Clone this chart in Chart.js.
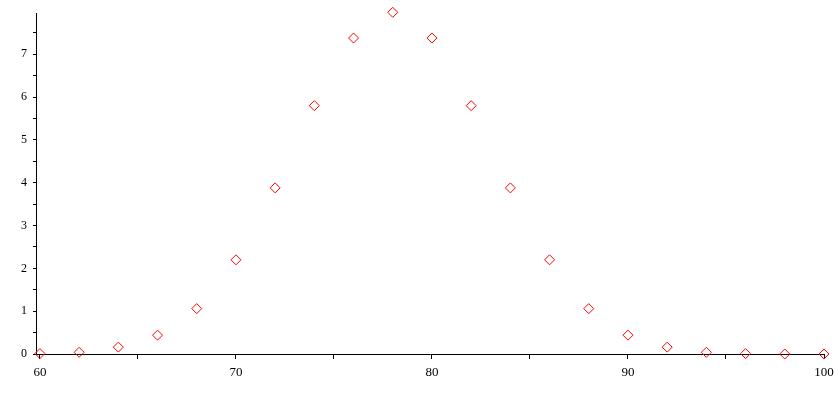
<!DOCTYPE html>
<html>
<head>
<meta charset="utf-8">
<script src="https://cdn.jsdelivr.net/npm/chart.js@4"></script>
<style>
  html, body { margin: 0; padding: 0; background: #fff; }
  #wrap { width: 840px; height: 400px; }
</style>
</head>
<body>
<div id="wrap"><canvas id="chartCanvas"></canvas></div>
<script>
// x positions and plotted values
const xValues = [60, 62, 64, 66, 68, 70, 72, 74, 76, 78, 80, 82, 84, 86, 88, 90, 92, 94, 96, 98, 100];
const yValues = [0.01, 0.04, 0.16, 0.44, 1.06, 2.2, 3.88, 5.8, 7.38, 7.98, 7.38, 5.8, 3.88, 2.2, 1.06, 0.44, 0.16, 0.04, 0.01, 0.0, 0.0];
const xTickLabels = [60, 70, 80, 90, 100]; // labelled x ticks
const yTickLabels = [0, 1, 2, 3, 4, 5, 6, 7]; // labelled y ticks

const points = xValues.map(function (x, i) {
    return { x: x, y: yValues[i] };
});

const serif = "'Liberation Serif', 'DejaVu Serif', serif";

const ctx = document.getElementById('chartCanvas').getContext('2d');
const myChart = new Chart(ctx, {
    type: 'scatter',
    data: {
        datasets: [{
            data: points,
            pointStyle: 'rectRot',
            pointRadius: 5,
            pointHoverRadius: 5,
            pointBorderWidth: 1,
            borderColor: '#ff0000',
            backgroundColor: 'rgba(0,0,0,0)',
            clip: false
        }]
    },
    options: {
        responsive: true,
        maintainAspectRatio: false,
        animation: false,
        layout: { padding: { left: 0, right: 16, top: 12, bottom: 0 } },
        plugins: { legend: { display: false }, tooltip: { enabled: false } },
        scales: {
            x: {
                type: 'linear',
                min: 59.8,
                max: 100,
                afterFit: function (scale) { scale.height = 46; },
                afterBuildTicks: function (scale) {
                    const t = [];
                    for (let v = 60; v <= 100; v += 5) t.push({ value: v });
                    scale.ticks = t;
                },
                ticks: {
                    color: '#000',
                    font: { family: serif, size: 13 },
                    padding: 6,
                    maxRotation: 0,
                    autoSkip: false,
                    callback: function (v) {
                        return xTickLabels.includes(v) ? String(v) : '';
                    }
                },
                grid: {
                    drawOnChartArea: false,
                    drawTicks: true,
                    tickLength: 5,
                    tickColor: '#000'
                },
                border: { display: true, color: '#000', width: 1 }
            },
            y: {
                type: 'linear',
                min: 0,
                max: 7.96,
                afterFit: function (scale) { scale.width = 36; },
                afterBuildTicks: function (scale) {
                    const t = [];
                    for (let v = 0; v <= 7.5; v += 0.5) t.push({ value: v });
                    scale.ticks = t;
                },
                ticks: {
                    color: '#000',
                    font: { family: serif, size: 12 },
                    padding: 6,
                    autoSkip: false,
                    callback: function (v) {
                        return yTickLabels.includes(v) ? String(v) : '';
                    }
                },
                grid: {
                    drawOnChartArea: false,
                    drawTicks: true,
                    tickLength: 3,
                    tickColor: '#000'
                },
                border: { display: true, color: '#000', width: 1 }
            }
        }
    }
});
</script>
</body>
</html>
